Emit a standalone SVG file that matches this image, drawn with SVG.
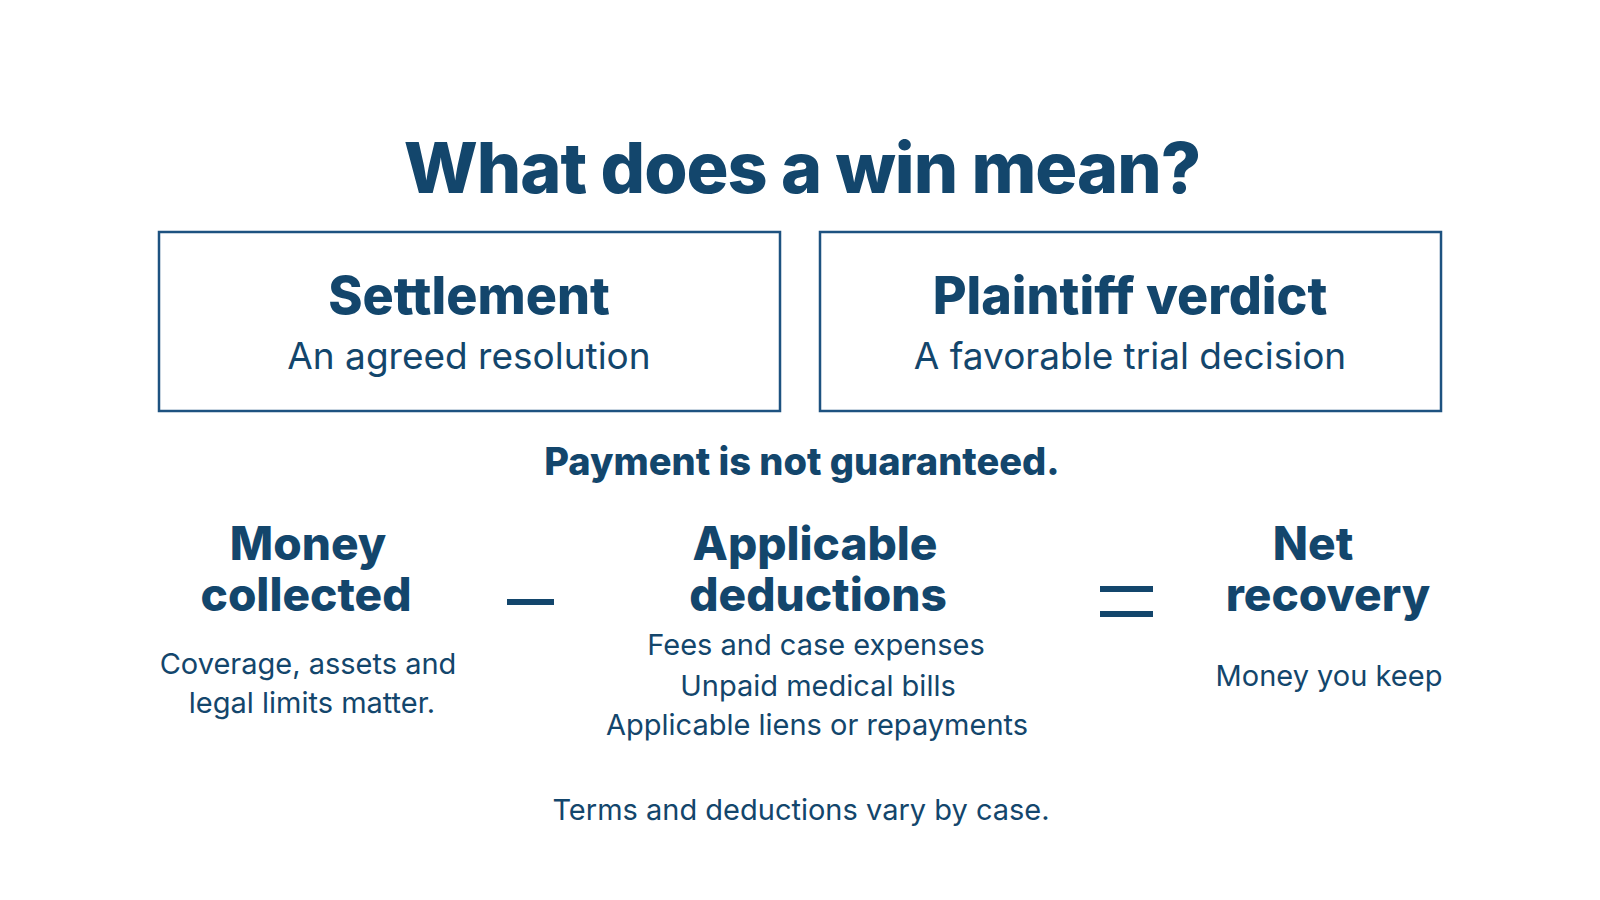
<svg xmlns="http://www.w3.org/2000/svg" width="1600" height="900" viewBox="0 0 1600 900">
<style>
text{font-family:Inter,"Noto Sans","Liberation Sans",sans-serif;fill:#13466c;text-anchor:middle}
.b{font-weight:800}
.box{fill:#fff;stroke:#1d5280;stroke-width:2.5}
.op{stroke:#13466c;stroke-width:6}
</style>
<rect width="1600" height="900" fill="#fff"/>
<text x="802" y="193" class="b" font-size="70" letter-spacing="-1">What does a win mean?</text>
<g id="settlement"><rect class="box" x="159" y="232" width="621" height="179"/>
<text x="469" y="314" class="b" font-size="52">Settlement</text>
<text x="469" y="369" font-size="37">An agreed resolution</text></g>
<g id="verdict"><rect class="box" x="820" y="232" width="621" height="179"/>
<text x="1130" y="314" class="b" font-size="52">Plaintiff verdict</text>
<text x="1130" y="369" font-size="37">A favorable trial decision</text></g>
<text x="802" y="475" class="b" font-size="38">Payment is not guaranteed.</text>
<g id="money"><text x="308" y="560" class="b" font-size="46">Money</text>
<text x="306" y="611" class="b" font-size="46">collected</text>
<text x="308" y="674" font-size="29">Coverage, assets and</text>
<text x="312" y="713" font-size="29">legal limits matter.</text></g>
<g id="deductions"><text x="815" y="560" class="b" font-size="46">Applicable</text>
<text x="818" y="611" class="b" font-size="46">deductions</text>
<text x="816" y="655" font-size="29">Fees and case expenses</text>
<text x="818" y="696" font-size="29">Unpaid medical bills</text>
<text x="817" y="735" font-size="29">Applicable liens or repayments</text></g>
<g id="net"><text x="1313" y="560" class="b" font-size="46">Net</text>
<text x="1328" y="611" class="b" font-size="46">recovery</text>
<text x="1329" y="686" font-size="29">Money you keep</text></g>
<g id="connectors"><line class="op" x1="507" y1="602" x2="554" y2="602"/>
<line class="op" x1="1100" y1="589" x2="1153" y2="589"/>
<line class="op" x1="1100" y1="614" x2="1153" y2="614"/></g>
<text x="801" y="820" font-size="29">Terms and deductions vary by case.</text>
</svg>
